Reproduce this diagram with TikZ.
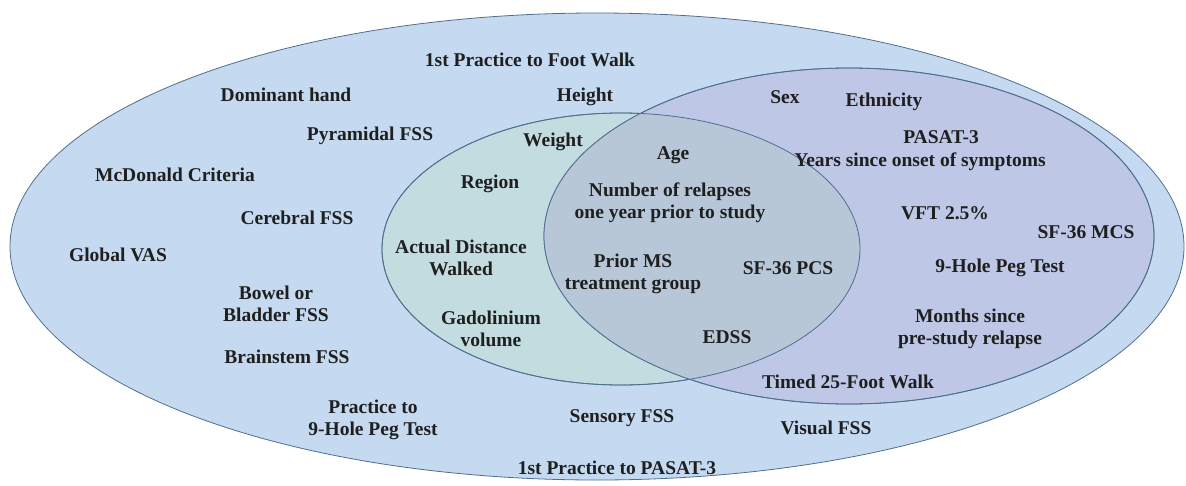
\documentclass[tikz,border=0pt]{standalone}
\usepackage{fontspec}
\setmainfont{Liberation Serif}
\definecolor{outerblue}{HTML}{C5DAF0}
\definecolor{greenset}{HTML}{C3DCE0}
\definecolor{purpleset}{HTML}{BEC7E6}
\definecolor{bothsets}{HTML}{B7C7D8}
\definecolor{ringline}{HTML}{4F6F8F}

\begin{document}
\begin{tikzpicture}[x=1pt,y=-1pt,
  var/.style={font=\fontsize{19.5}{22}\selectfont\bfseries,align=center,inner sep=0pt,text=black!88},
  ring/.style={draw=ringline,line width=0.8pt}]

  \useasboundingbox (0,0) rectangle (1186,485);

  % the three sets
  \draw[ring,fill=outerblue]  (597,246.5) ellipse [x radius=587,y radius=233.5];
  \draw[ring,fill=greenset]   (621,249) ellipse [x radius=239,y radius=136];
  \draw[ring,fill=purpleset]  (849,236) ellipse [x radius=305,y radius=168];
  \begin{scope}
    \clip (621,249) ellipse [x radius=239,y radius=136];
    \fill[bothsets] (849,236) ellipse [x radius=305,y radius=168];
  \end{scope}
  \draw[ring] (621,249) ellipse [x radius=239,y radius=136];
  \draw[ring] (849,236) ellipse [x radius=305,y radius=168];

  % outer set only
  \node[var] (footpractice)  at (530,60)  {1st Practice to Foot Walk};
  \node[var] (hand)          at (286,95)  {Dominant hand};
  \node[var] (height)        at (585,97)  {Height};
  \node[var] (pyramidal)     at (370,136) {Pyramidal FSS};
  \node[var] (mcdonald)      at (175,175) {McDonald Criteria};
  \node[var] (cerebral)      at (297,218) {Cerebral FSS};
  \node[var] (vas)           at (118,255) {Global VAS};
  \node[var] (bowel)         at (276,304) {Bowel or\\Bladder FSS};
  \node[var] (brainstem)     at (287,357) {Brainstem FSS};
  \node[var] (pegpractice)   at (373,420) {Practice to\\9-Hole Peg Test};
  \node[var] (sensory)       at (622,418) {Sensory FSS};
  \node[var] (visual)        at (826,428) {Visual FSS};
  \node[var] (pasatpractice) at (617,468) {1st Practice to PASAT-3};

  % left set
  \node[var] (weight)        at (553,142) {Weight};
  \node[var] (region)        at (490,184) {Region};
  \node[var] (distance)      at (461,258) {Actual Distance\\Walked};
  \node[var] (gadolinium)    at (491,329) {Gadolinium\\volume};

  % both sets
  \node[var] (age)           at (673,155) {Age};
  \node[var] (relapses)      at (670,203) {Number of relapses\\one year prior to study};
  \node[var] (treatment)     at (633,274) {Prior MS\\treatment group};
  \node[var] (pcs)           at (788,268) {SF-36 PCS};
  \node[var] (edss)          at (727,337) {EDSS};

  % right set
  \node[var] (sex)           at (785,97)  {Sex};
  \node[var] (ethnicity)     at (884,102) {Ethnicity};
  \node[var] (pasat)         at (941,137) {PASAT-3};
  \node[var] (onset)         at (920,162) {Years since onset of symptoms};
  \node[var] (vft)           at (945,213) {VFT 2.5\%};
  \node[var] (mcs)           at (1086,232) {SF-36 MCS};
  \node[var] (peg)           at (1000,268) {9-Hole Peg Test};
  \node[var] (months)        at (970,329) {Months since\\pre-study relapse};
  \node[var] (walk)          at (848,382) {Timed 25-Foot Walk};

\end{tikzpicture}
\end{document}
